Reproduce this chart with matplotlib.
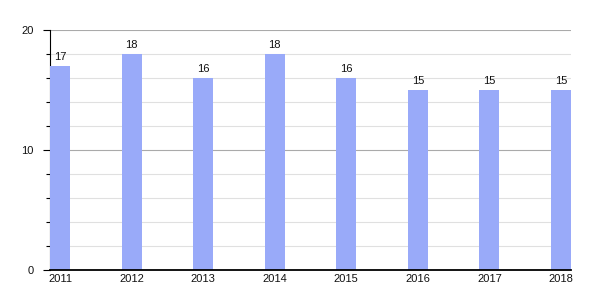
import matplotlib
matplotlib.use("Agg")
import matplotlib.pyplot as plt
from matplotlib.ticker import MultipleLocator

years = ["2011", "2012", "2013", "2014", "2015", "2016", "2017", "2018"]
values = [17, 18, 16, 18, 16, 15, 15, 15]

plt.rcParams['font.family'] = ['Liberation Sans', 'DejaVu Sans']
fig = plt.figure(figsize=(6, 3), dpi=100)
ax = fig.add_axes([50/600, 30/300, 521/600, 240/300])

w = 0.28
x = list(range(len(years)))
ax.bar(x, values, width=w, color="#99aaf9", zorder=3)
for xi, v in zip(x, values):
    ax.text(xi, v + 0.3, str(v), ha="center", va="bottom", fontsize=8, color="#111111", zorder=4)

ax.set_xlim(-w/2, len(years) - 1 + w/2)
ax.set_ylim(0, 20)
ax.set_xticks(x)
ax.set_xticklabels(years, fontsize=8, color="#111111")
ax.yaxis.set_major_locator(MultipleLocator(10))
ax.yaxis.set_minor_locator(MultipleLocator(2))
ax.tick_params(axis="y", which="major", length=5, width=0.8, labelsize=8, pad=7, labelcolor="#111111")
ax.tick_params(axis="y", which="minor", length=3, width=0.8)
ax.tick_params(axis="x", length=0, pad=3)
ax.grid(axis="y", which="major", color="#aaaaaa", linewidth=0.8, zorder=1)
ax.grid(axis="y", which="minor", color="#e0e0e0", linewidth=0.8, zorder=1)
for s in ["top", "right"]:
    ax.spines[s].set_visible(False)
ax.spines["left"].set_linewidth(0.8)
ax.spines["bottom"].set_linewidth(1.3)
ax.spines["bottom"].set_zorder(5)

fig.savefig("out.png", dpi=100)
